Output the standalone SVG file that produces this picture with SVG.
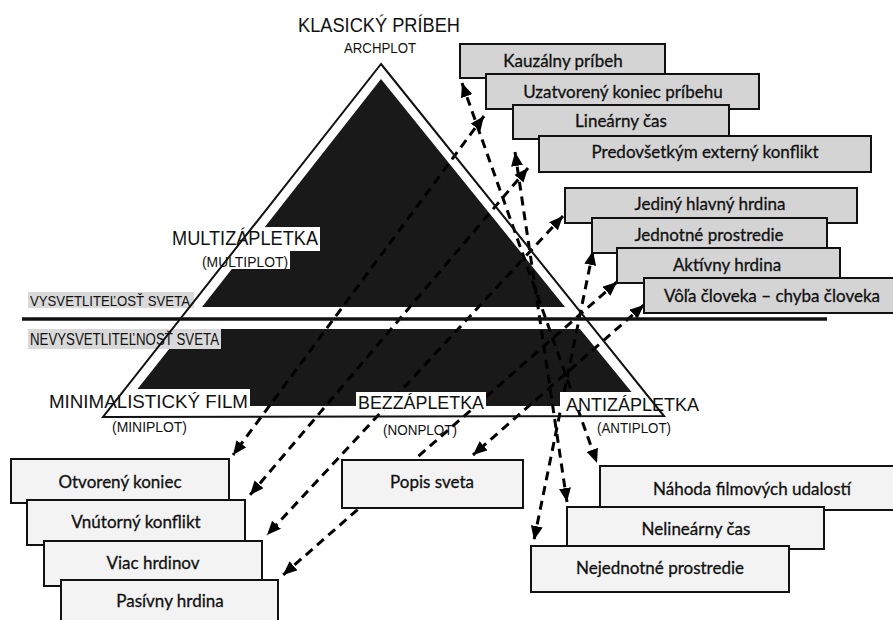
<svg xmlns="http://www.w3.org/2000/svg" width="893" height="620" viewBox="0 0 893 620">
<style>
.blk{fill:#191919}
.wbg{fill:#ffffff}
.gbg{fill:#d9d9d9}
.lab{font-family:"Liberation Sans",Arial,sans-serif;fill:#111}
.top{fill:#d4d4d4;stroke:#111;stroke-width:2}
.bot{fill:#f3f3f3;stroke:#111;stroke-width:2}
.bt{font-family:Lato,"Liberation Sans",sans-serif;font-size:17px;fill:#111;stroke:#111;stroke-width:0.3;text-anchor:middle}
.dash{stroke:#000;stroke-width:3;stroke-dasharray:9 6;fill:none;marker-start:url(#ah);marker-end:url(#ah)}
</style>
<defs>
<marker id="ah" viewBox="0 0 14 12" refX="14" refY="6" markerWidth="14" markerHeight="12" markerUnits="userSpaceOnUse" orient="auto-start-reverse">
<path d="M0,0 L14,6 L0,12 z" fill="#000"/>
</marker>
</defs>
<rect width="893" height="620" fill="#fff"/>

<g id="pyramid">
<polygon class="blk" points="381,79 565,307 202,307"/>
<polygon class="blk" points="185,329 580,329 643,406 124,406"/>
</g>

<g id="world-labels">
<rect class="gbg" x="28" y="292" width="166" height="16"/>
<text class="lab" x="30" y="306" font-size="15" textLength="160" lengthAdjust="spacingAndGlyphs">VYSVETLITEĽOSŤ SVETA</text>
<rect class="gbg" x="28" y="329" width="193" height="20"/>
<text class="lab" x="30" y="345" font-size="16" textLength="189" lengthAdjust="spacingAndGlyphs">NEVYSVETLITEĽNOSŤ SVETA</text>
</g>

<g id="connectors">
<line class="dash" x1="484" y1="116" x2="233" y2="455"/>
<line class="dash" x1="528" y1="168" x2="250" y2="495"/>
<line class="dash" x1="563" y1="216" x2="267" y2="535"/>
<line class="dash" x1="617" y1="282" x2="283" y2="575"/>
<line class="dash" x1="644" y1="305" x2="473" y2="455"/>
<line class="dash" x1="462" y1="83" x2="597" y2="463"/>
<line class="dash" x1="515" y1="152" x2="567" y2="502"/>
<line class="dash" x1="593" y1="251" x2="534" y2="540"/>
</g>

<g id="plot-labels">
<text class="lab" x="298" y="32" font-size="20" textLength="162" lengthAdjust="spacingAndGlyphs">KLASICKÝ PRÍBEH</text>
<text class="lab" x="344" y="53" font-size="14" textLength="72" lengthAdjust="spacingAndGlyphs">ARCHPLOT</text>
<rect class="wbg" x="170" y="227" width="150" height="24"/>
<text class="lab" x="172" y="245" font-size="20" textLength="146" lengthAdjust="spacingAndGlyphs">MULTIZÁPLETKA</text>
<rect class="wbg" x="200" y="251" width="90" height="18"/>
<text class="lab" x="202" y="267" font-size="14" textLength="86" lengthAdjust="spacingAndGlyphs">(MULTIPLOT)</text>
<rect class="wbg" x="46" y="389" width="204" height="20"/>
<text class="lab" x="49" y="408" font-size="19" textLength="199" lengthAdjust="spacingAndGlyphs">MINIMALISTICKÝ FILM</text>
<text class="lab" x="112" y="432" font-size="14" textLength="75" lengthAdjust="spacingAndGlyphs">(MINIPLOT)</text>
<rect class="wbg" x="356" y="392" width="130" height="18"/>
<text class="lab" x="358" y="409" font-size="19" textLength="126" lengthAdjust="spacingAndGlyphs">BEZZÁPLETKA</text>
<text class="lab" x="383" y="435" font-size="14" textLength="74" lengthAdjust="spacingAndGlyphs">(NONPLOT)</text>
<rect class="wbg" x="560" y="392" width="142" height="18"/>
<text class="lab" x="566" y="411" font-size="19" textLength="133" lengthAdjust="spacingAndGlyphs">ANTIZÁPLETKA</text>
<text class="lab" x="597" y="433" font-size="14" textLength="74" lengthAdjust="spacingAndGlyphs">(ANTIPLOT)</text>
</g>

<g id="outline">
<polygon points="381,64 664,416 103,417" fill="none" stroke="#111" stroke-width="2"/>
<line x1="22" y1="319" x2="827" y2="319" stroke="#111" stroke-width="3.5"/>
</g>

<g id="n1"><rect class="top" x="460" y="44" width="205" height="34"/><text class="bt" x="563" y="67">Kauzálny príbeh</text></g>
<g id="n2"><rect class="top" x="486" y="74" width="273" height="35"/><text class="bt" x="623" y="98">Uzatvorený koniec príbehu</text></g>
<g id="n3"><rect class="top" x="513" y="105" width="216" height="34"/><text class="bt" x="621" y="127">Lineárny čas</text></g>
<g id="n4"><rect class="top" x="539" y="136" width="332" height="36"/><text class="bt" x="705" y="158">Predovšetkým externý konflikt</text></g>
<g id="n5"><rect class="top" x="565" y="188" width="292" height="35"/><text class="bt" x="710" y="210">Jediný hlavný hrdina</text></g>
<g id="n6"><rect class="top" x="592" y="218" width="235" height="35"/><text class="bt" x="709" y="241">Jednotné prostredie</text></g>
<g id="n7"><rect class="top" x="617" y="248" width="223" height="35"/><text class="bt" x="727" y="271">Aktívny hrdina</text></g>
<g id="n8"><rect class="top" x="644" y="278" width="260" height="35"/><text class="bt" x="772" y="302">Vôľa človeka – chyba človeka</text></g>

<g id="n9"><rect class="bot" x="11" y="459" width="218" height="44"/><text class="bt" x="120" y="488">Otvorený koniec</text></g>
<g id="n10"><rect class="bot" x="27" y="500" width="218" height="45"/><text class="bt" x="136" y="528">Vnútorný konflikt</text></g>
<g id="n11"><rect class="bot" x="44" y="541" width="218" height="45"/><text class="bt" x="153" y="569">Viac hrdinov</text></g>
<g id="n12"><rect class="bot" x="61" y="580" width="217" height="50"/><text class="bt" x="170" y="607">Pasívny hrdina</text></g>
<g id="n13"><rect class="bot" x="342" y="460" width="181" height="48"/><text class="bt" x="432" y="488">Popis sveta</text></g>
<g id="n14"><rect class="bot" x="600" y="466" width="300" height="44"/><text class="bt" x="752" y="495">Náhoda filmových udalostí</text></g>
<g id="n15"><rect class="bot" x="567" y="507" width="257" height="42"/><text class="bt" x="696" y="535">Nelineárny čas</text></g>
<g id="n16"><rect class="bot" x="531" y="546" width="258" height="46"/><text class="bt" x="660" y="574">Nejednotné prostredie</text></g>
</svg>
